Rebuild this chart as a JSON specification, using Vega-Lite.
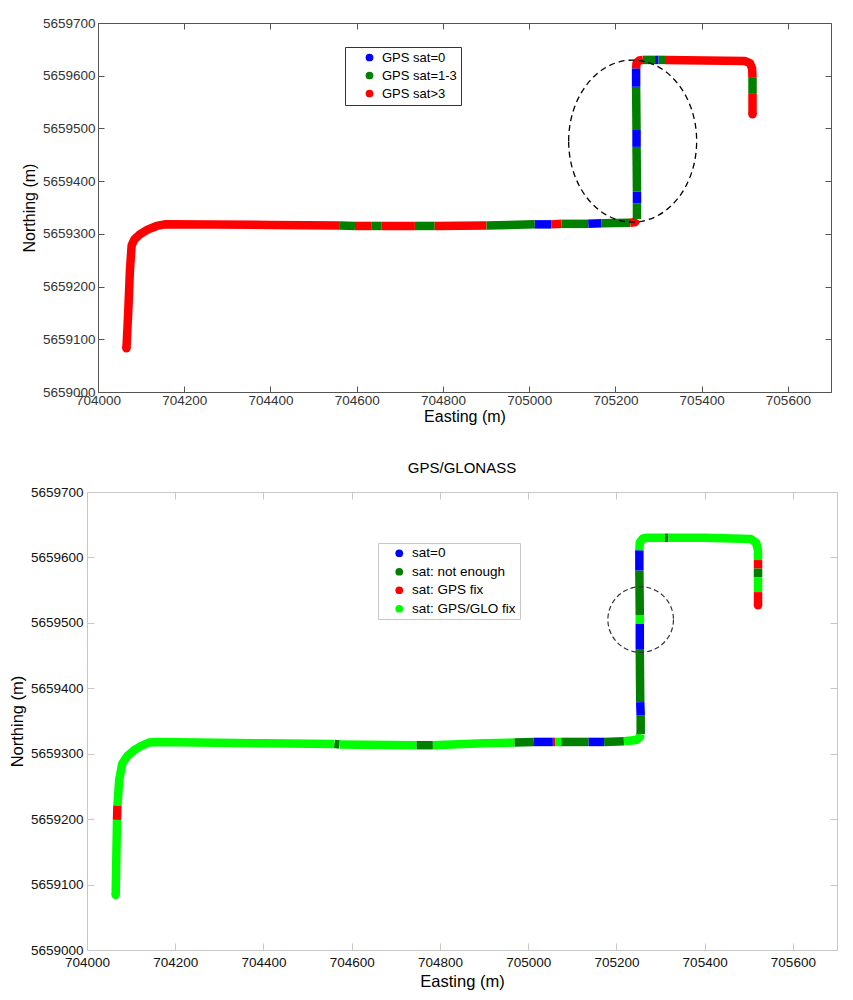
{
"$schema": "https://vega.github.io/schema/vega-lite/v6.json",
"background": "white",
"padding": {"left": 9, "top": 16, "right": 5, "bottom": 5},
"config": {"font": "Liberation Sans", "view": {"stroke": null}, "axis": {"grid": false, "labelOverlap": false, "labelFlush": false, "titleFontWeight": "normal"}},
"datasets": {
"top": [
{"e":704066,"n":5659083,"s":"r","g":1,"o":1},{"e":704070,"n":5659150,"s":"r","g":1,"o":2},{"e":704074,"n":5659230,"s":"r","g":1,"o":3},{"e":704078,"n":5659278,"s":"r","g":1,"o":4},{"e":704085,"n":5659290,"s":"r","g":1,"o":5},{"e":704097,"n":5659299,"s":"r","g":1,"o":6},{"e":704115,"n":5659308,"s":"r","g":1,"o":7},{"e":704136,"n":5659315,"s":"r","g":1,"o":8},{"e":704155,"n":5659318,"s":"r","g":1,"o":9},{"e":704400,"n":5659317,"s":"r","g":1,"o":10},{"e":704561,"n":5659316,"s":"r","g":1,"o":11},
{"e":704561,"n":5659316,"s":"g","g":2,"o":12},{"e":704596,"n":5659315,"s":"g","g":2,"o":13},
{"e":704596,"n":5659315,"s":"r","g":3,"o":14},{"e":704635,"n":5659315,"s":"r","g":3,"o":15},
{"e":704635,"n":5659315,"s":"g","g":4,"o":16},{"e":704658,"n":5659315,"s":"g","g":4,"o":17},
{"e":704658,"n":5659315,"s":"r","g":5,"o":18},{"e":704735,"n":5659315,"s":"r","g":5,"o":19},
{"e":704735,"n":5659315,"s":"g","g":6,"o":20},{"e":704781,"n":5659315,"s":"g","g":6,"o":21},
{"e":704781,"n":5659315,"s":"r","g":7,"o":22},{"e":704901,"n":5659316,"s":"r","g":7,"o":23},
{"e":704901,"n":5659316,"s":"g","g":8,"o":24},{"e":705013,"n":5659318,"s":"g","g":8,"o":25},
{"e":705013,"n":5659318,"s":"b","g":9,"o":26},{"e":705052,"n":5659318,"s":"b","g":9,"o":27},
{"e":705052,"n":5659318,"s":"r","g":10,"o":28},{"e":705075,"n":5659319,"s":"r","g":10,"o":29},
{"e":705075,"n":5659319,"s":"g","g":11,"o":30},{"e":705137,"n":5659319,"s":"g","g":11,"o":31},
{"e":705137,"n":5659319,"s":"b","g":12,"o":32},{"e":705168,"n":5659320,"s":"b","g":12,"o":33},
{"e":705168,"n":5659320,"s":"g","g":13,"o":34},{"e":705234,"n":5659321,"s":"g","g":13,"o":35},
{"e":705234,"n":5659321,"s":"r","g":14,"o":36},{"e":705245,"n":5659322,"s":"r","g":14,"o":37},{"e":705250,"n":5659328,"s":"r","g":14,"o":38},
{"e":705250,"n":5659328,"s":"g","g":15,"o":39},{"e":705250,"n":5659358,"s":"g","g":15,"o":40},
{"e":705250,"n":5659358,"s":"b","g":16,"o":41},{"e":705250,"n":5659380,"s":"b","g":16,"o":42},
{"e":705250,"n":5659380,"s":"g","g":17,"o":43},{"e":705249,"n":5659465,"s":"g","g":17,"o":44},
{"e":705249,"n":5659465,"s":"b","g":18,"o":45},{"e":705249,"n":5659497,"s":"b","g":18,"o":46},
{"e":705249,"n":5659497,"s":"g","g":19,"o":47},{"e":705248,"n":5659579,"s":"g","g":19,"o":48},
{"e":705248,"n":5659579,"s":"b","g":20,"o":49},{"e":705248,"n":5659614,"s":"b","g":20,"o":50},
{"e":705248,"n":5659614,"s":"r","g":21,"o":51},{"e":705249,"n":5659624,"s":"r","g":21,"o":52},{"e":705255,"n":5659629,"s":"r","g":21,"o":53},{"e":705264,"n":5659630,"s":"r","g":21,"o":54},
{"e":705264,"n":5659630,"s":"g","g":22,"o":55},{"e":705292,"n":5659630,"s":"g","g":22,"o":56},
{"e":705292,"n":5659630,"s":"b","g":23,"o":57},{"e":705300,"n":5659630,"s":"b","g":23,"o":58},
{"e":705300,"n":5659630,"s":"g","g":24,"o":59},{"e":705315,"n":5659630,"s":"g","g":24,"o":60},
{"e":705315,"n":5659630,"s":"r","g":25,"o":61},{"e":705500,"n":5659628,"s":"r","g":25,"o":62},{"e":705512,"n":5659624,"s":"r","g":25,"o":63},{"e":705517,"n":5659614,"s":"r","g":25,"o":64},{"e":705518,"n":5659596,"s":"r","g":25,"o":65},
{"e":705518,"n":5659596,"s":"g","g":26,"o":66},{"e":705518,"n":5659567,"s":"g","g":26,"o":67},
{"e":705518,"n":5659567,"s":"r","g":27,"o":68},{"e":705518,"n":5659527,"s":"r","g":27,"o":69}
],
"bot": [
{"e":704065,"n":5659084,"s":"l","g":1,"o":1},{"e":704068,"n":5659199,"s":"l","g":1,"o":2},
{"e":704068,"n":5659199,"s":"r","g":2,"o":3},{"e":704069,"n":5659221,"s":"r","g":2,"o":4},
{"e":704069,"n":5659221,"s":"l","g":3,"o":5},{"e":704073,"n":5659260,"s":"l","g":3,"o":6},{"e":704080,"n":5659285,"s":"l","g":3,"o":7},{"e":704092,"n":5659297,"s":"l","g":3,"o":8},{"e":704108,"n":5659306,"s":"l","g":3,"o":9},{"e":704123,"n":5659312,"s":"l","g":3,"o":10},{"e":704140,"n":5659317,"s":"l","g":3,"o":11},{"e":704160,"n":5659318,"s":"l","g":3,"o":12},{"e":704400,"n":5659316,"s":"l","g":3,"o":13},{"e":704561,"n":5659315,"s":"l","g":3,"o":14},
{"e":704561,"n":5659315,"s":"d","g":4,"o":15},{"e":704572,"n":5659314,"s":"d","g":4,"o":16},
{"e":704572,"n":5659314,"s":"l","g":5,"o":17},{"e":704747,"n":5659313,"s":"l","g":5,"o":18},
{"e":704747,"n":5659313,"s":"d","g":6,"o":19},{"e":704784,"n":5659313,"s":"d","g":6,"o":20},
{"e":704784,"n":5659313,"s":"l","g":7,"o":21},{"e":704900,"n":5659316,"s":"l","g":7,"o":22},{"e":704969,"n":5659317,"s":"l","g":7,"o":23},
{"e":704969,"n":5659317,"s":"d","g":8,"o":24},{"e":705013,"n":5659318,"s":"d","g":8,"o":25},
{"e":705013,"n":5659318,"s":"b","g":9,"o":26},{"e":705056,"n":5659318,"s":"b","g":9,"o":27},
{"e":705056,"n":5659318,"s":"r","g":10,"o":28},{"e":705062,"n":5659318,"s":"r","g":10,"o":29},
{"e":705062,"n":5659318,"s":"l","g":11,"o":30},{"e":705075,"n":5659318,"s":"l","g":11,"o":31},
{"e":705075,"n":5659318,"s":"d","g":12,"o":32},{"e":705137,"n":5659318,"s":"d","g":12,"o":33},
{"e":705137,"n":5659318,"s":"b","g":13,"o":34},{"e":705172,"n":5659318,"s":"b","g":13,"o":35},
{"e":705172,"n":5659318,"s":"d","g":14,"o":36},{"e":705217,"n":5659319,"s":"d","g":14,"o":37},
{"e":705217,"n":5659319,"s":"l","g":15,"o":38},{"e":705245,"n":5659321,"s":"l","g":15,"o":39},{"e":705253,"n":5659325,"s":"l","g":15,"o":40},{"e":705255,"n":5659330,"s":"l","g":15,"o":41},
{"e":705255,"n":5659330,"s":"d","g":16,"o":42},{"e":705255,"n":5659359,"s":"d","g":16,"o":43},
{"e":705255,"n":5659359,"s":"b","g":17,"o":44},{"e":705254,"n":5659379,"s":"b","g":17,"o":45},
{"e":705254,"n":5659379,"s":"d","g":18,"o":46},{"e":705253,"n":5659460,"s":"d","g":18,"o":47},
{"e":705253,"n":5659460,"s":"b","g":19,"o":48},{"e":705253,"n":5659499,"s":"b","g":19,"o":49},
{"e":705253,"n":5659499,"s":"l","g":20,"o":50},{"e":705253,"n":5659512,"s":"l","g":20,"o":51},
{"e":705253,"n":5659512,"s":"d","g":21,"o":52},{"e":705252,"n":5659580,"s":"d","g":21,"o":53},
{"e":705252,"n":5659580,"s":"b","g":22,"o":54},{"e":705252,"n":5659611,"s":"b","g":22,"o":55},
{"e":705252,"n":5659611,"s":"l","g":23,"o":56},{"e":705253,"n":5659623,"s":"l","g":23,"o":57},{"e":705260,"n":5659629,"s":"l","g":23,"o":58},{"e":705270,"n":5659630,"s":"l","g":23,"o":59},{"e":705310,"n":5659630,"s":"l","g":23,"o":60},
{"e":705310,"n":5659630,"s":"d","g":24,"o":61},{"e":705318,"n":5659630,"s":"d","g":24,"o":62},
{"e":705318,"n":5659630,"s":"l","g":25,"o":63},{"e":705400,"n":5659630,"s":"l","g":25,"o":64},{"e":705505,"n":5659628,"s":"l","g":25,"o":65},{"e":705517,"n":5659622,"s":"l","g":25,"o":66},{"e":705521,"n":5659610,"s":"l","g":25,"o":67},{"e":705521,"n":5659596,"s":"l","g":25,"o":68},
{"e":705521,"n":5659596,"s":"r","g":26,"o":69},{"e":705521,"n":5659583,"s":"r","g":26,"o":70},
{"e":705521,"n":5659583,"s":"d","g":27,"o":71},{"e":705521,"n":5659570,"s":"d","g":27,"o":72},
{"e":705521,"n":5659570,"s":"l","g":28,"o":73},{"e":705521,"n":5659547,"s":"l","g":28,"o":74},
{"e":705521,"n":5659547,"s":"r","g":29,"o":75},{"e":705521,"n":5659527,"s":"r","g":29,"o":76}
],
"etop": [{"e":705240,"n":5659476}],
"ebot": [{"e":705255,"n":5659505}]
},
"resolve": {"scale": {"x": "independent", "y": "independent", "color": "independent"}, "legend": {"color": "independent"}, "axis": {"x": "independent", "y": "independent"}},
"spacing": 36,
"vconcat": [
{
"hconcat": [
{"width": 1, "height": 10, "data": {"values": [{"a": 1}]}, "mark": {"type": "point", "opacity": 0}},
{
"width": 733, "height": 369,
"resolve": {"axis": {"x": "independent", "y": "independent"}, "scale": {"color": "independent"}, "legend": {"color": "independent"}},
"layer": [
{
"data": {"name": "top"},
"mark": {"type": "line", "strokeWidth": 8.5, "strokeCap": "butt", "strokeJoin": "round"},
"encoding": {
"x": {"field": "e", "type": "quantitative", "scale": {"domain": [704000, 705700], "nice": false, "zero": false},
"axis": {"orient": "bottom", "values": [704000,704200,704400,704600,704800,705000,705200,705400,705600], "format": "d", "title": "Easting (m)", "titleFontSize": 16, "titleColor": "#000", "titlePadding": 2, "labelFontSize": 13.5, "labelColor": "#333", "labelPadding": 7, "tickSize": -6, "tickColor": "#555", "domainColor": "#555"}},
"y": {"field": "n", "type": "quantitative", "scale": {"domain": [5659000, 5659700], "nice": false, "zero": false},
"axis": {"orient": "left", "values": [5659000,5659100,5659200,5659300,5659400,5659500,5659600,5659700], "format": "d", "title": "Northing (m)", "titleFontSize": 16, "titleColor": "#000", "titlePadding": 5, "labelFontSize": 13.5, "labelColor": "#333", "labelPadding": 9, "tickSize": -6, "tickColor": "#555", "domainColor": "#555"}},
"color": {"field": "s", "type": "nominal", "scale": {"domain": ["b", "g", "r"], "range": ["#0000ff", "#008000", "#ff0000"]}, "legend": null},
"detail": {"field": "g", "type": "nominal"},
"order": {"field": "o", "type": "quantitative"}
}
},
{
"data": {"name": "top"},
"transform": [{"filter": "datum.o == 1 || datum.o == 69"}],
"mark": {"type": "point", "filled": true, "size": 72, "opacity": 1},
"encoding": {
"x": {"field": "e", "type": "quantitative", "scale": {"domain": [704000, 705700], "nice": false, "zero": false}, "axis": null},
"y": {"field": "n", "type": "quantitative", "scale": {"domain": [5659000, 5659700], "nice": false, "zero": false}, "axis": null},
"color": {"field": "s", "type": "nominal", "scale": {"domain": ["b", "g", "r"], "range": ["#0000ff", "#008000", "#ff0000"]},
"legend": {"orient": "none", "legendX": 247, "legendY": 24, "title": null, "labelExpr": "datum.label == 'b' ? 'GPS sat=0' : datum.label == 'g' ? 'GPS sat=1-3\u00a0\u00a0' : 'GPS sat>3'", "labelFontSize": 13, "labelColor": "#000", "symbolType": "circle", "symbolSize": 60, "strokeColor": "#333", "fillColor": "#fff", "padding": 4, "rowPadding": 4, "labelOffset": 6, "symbolOffset": 14}}
}
},
{
"data": {"name": "etop"},
"mark": {"type": "point", "shape": "M-1,0C-1,-0.699,-0.5523,-1.2656,0,-1.2656C0.5523,-1.2656,1,-0.699,1,0C1,0.699,0.5523,1.2656,0,1.2656C-0.5523,1.2656,-1,0.699,-1,0Z", "size": 16384, "filled": false, "color": "#000", "strokeWidth": 1.3, "strokeDash": [6, 4], "opacity": 1},
"encoding": {
"x": {"field": "e", "type": "quantitative", "scale": {"domain": [704000, 705700], "nice": false, "zero": false},
"axis": {"orient": "top", "values": [704000,704200,704400,704600,704800,705000,705200,705400,705600], "labels": false, "title": null, "tickSize": -6, "tickColor": "#555", "domainColor": "#555"}},
"y": {"field": "n", "type": "quantitative", "scale": {"domain": [5659000, 5659700], "nice": false, "zero": false},
"axis": {"orient": "right", "values": [5659000,5659100,5659200,5659300,5659400,5659500,5659600,5659700], "labels": false, "title": null, "tickSize": -6, "tickColor": "#555", "domainColor": "#555"}}
}
}
]
}
],
"spacing": 10,
"bounds": "flush"
},
{
"width": 750, "height": 458,
"title": {"text": "GPS/GLONASS", "fontSize": 15, "fontWeight": "normal", "color": "#000", "offset": 9, "frame": "group"},
"resolve": {"axis": {"x": "independent", "y": "independent"}, "scale": {"color": "independent"}, "legend": {"color": "independent"}},
"layer": [
{
"data": {"name": "bot"},
"mark": {"type": "line", "strokeWidth": 8.5, "strokeCap": "butt", "strokeJoin": "round"},
"encoding": {
"x": {"field": "e", "type": "quantitative", "scale": {"domain": [704000, 705700], "nice": false, "zero": false},
"axis": {"orient": "bottom", "values": [704000,704200,704400,704600,704800,705000,705200,705400,705600], "format": "d", "title": "Easting (m)", "titleFontSize": 16.5, "titleColor": "#000", "titlePadding": 5, "labelFontSize": 13.5, "labelColor": "#111", "labelPadding": 12, "tickSize": -7, "tickColor": "#c8c8c8", "domainColor": "#c8c8c8"}},
"y": {"field": "n", "type": "quantitative", "scale": {"domain": [5659000, 5659700], "nice": false, "zero": false},
"axis": {"orient": "left", "values": [5659000,5659100,5659200,5659300,5659400,5659500,5659600,5659700], "format": "d", "title": "Northing (m)", "titleFontSize": 16.5, "titleColor": "#000", "titlePadding": 5, "labelFontSize": 13.5, "labelColor": "#111", "labelPadding": 11, "tickSize": -7, "tickColor": "#c8c8c8", "domainColor": "#c8c8c8"}},
"color": {"field": "s", "type": "nominal", "scale": {"domain": ["b", "d", "r", "l"], "range": ["#0000ff", "#007f00", "#ff0000", "#00ff00"]}, "legend": null},
"detail": {"field": "g", "type": "nominal"},
"order": {"field": "o", "type": "quantitative"}
}
},
{
"data": {"name": "bot"},
"transform": [{"filter": "datum.o == 1 || datum.o == 76"}],
"mark": {"type": "point", "filled": true, "size": 72, "opacity": 1},
"encoding": {
"x": {"field": "e", "type": "quantitative", "scale": {"domain": [704000, 705700], "nice": false, "zero": false}, "axis": null},
"y": {"field": "n", "type": "quantitative", "scale": {"domain": [5659000, 5659700], "nice": false, "zero": false}, "axis": null},
"color": {"field": "s", "type": "nominal", "scale": {"domain": ["b", "d", "r", "l"], "range": ["#0000ff", "#007f00", "#ff0000", "#00ff00"]},
"legend": {"orient": "none", "legendX": 291, "legendY": 51, "title": null, "labelExpr": "datum.label == 'b' ? 'sat=0' : datum.label == 'd' ? 'sat: not enough' : datum.label == 'r' ? 'sat: GPS fix' : 'sat: GPS/GLO fix'", "labelFontSize": 13.5, "labelColor": "#000", "symbolType": "circle", "symbolSize": 60, "strokeColor": "#c8c8c8", "fillColor": "#fff", "padding": 3.5, "rowPadding": 3.5, "labelOffset": 6, "symbolOffset": 11}}
}
},
{
"data": {"name": "ebot"},
"mark": {"type": "point", "shape": "circle", "size": 4303, "filled": false, "color": "#333", "strokeWidth": 1.2, "strokeDash": [5, 3], "opacity": 1},
"encoding": {
"x": {"field": "e", "type": "quantitative", "scale": {"domain": [704000, 705700], "nice": false, "zero": false},
"axis": {"orient": "top", "values": [704000,704200,704400,704600,704800,705000,705200,705400,705600], "labels": false, "title": null, "tickSize": -7, "tickColor": "#c8c8c8", "domainColor": "#c8c8c8"}},
"y": {"field": "n", "type": "quantitative", "scale": {"domain": [5659000, 5659700], "nice": false, "zero": false},
"axis": {"orient": "right", "values": [5659000,5659100,5659200,5659300,5659400,5659500,5659600,5659700], "labels": false, "title": null, "tickSize": -7, "tickColor": "#c8c8c8", "domainColor": "#c8c8c8"}}
}
}
]
}
]
}
